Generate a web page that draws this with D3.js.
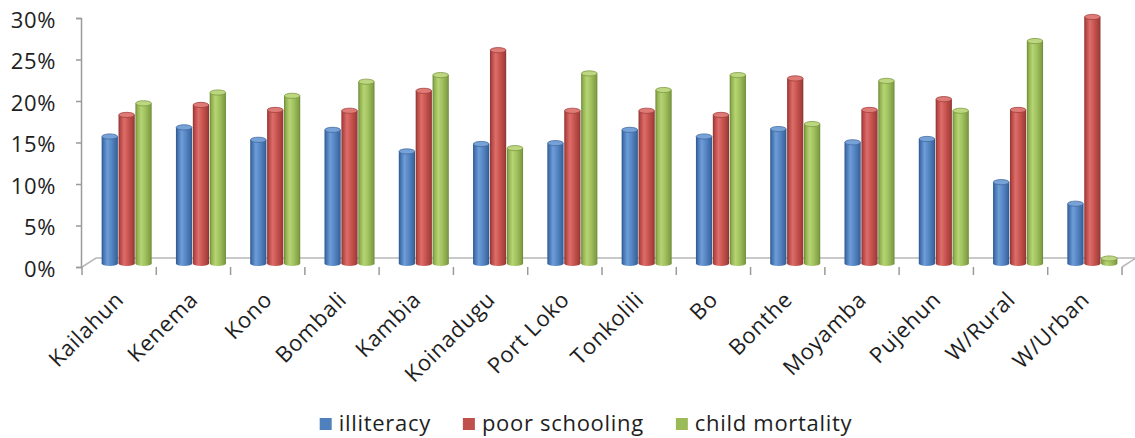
<!DOCTYPE html>
<html>
<head>
<meta charset="utf-8">
<script src="https://cdn.jsdelivr.net/npm/d3@7/dist/d3.min.js"></script>
<style>
  html, body { margin: 0; padding: 0; background: #fff; }
  svg { display: block; }
  text { font-family: "Open Sans", "Noto Sans", sans-serif; fill: #1e1e1e; }
</style>
</head>
<body>
<svg id="chart" width="1135" height="438"></svg>
<script>
// District categories along the x axis
const categories = ["Kailahun", "Kenema", "Kono", "Bombali", "Kambia", "Koinadugu",
  "Port Loko", "Tonkolili", "Bo", "Bonthe", "Moyamba", "Pujehun", "W/Rural", "W/Urban"];

// Series values, in percent
const illiteracy     = [15.3, 16.4, 14.9, 16.1, 13.5, 14.4, 14.5, 16.1, 15.3, 16.2, 14.6, 15.0, 9.8, 7.2];
const poorSchooling  = [17.9, 19.1, 18.5, 18.4, 20.8, 25.7, 18.4, 18.4, 17.9, 22.3, 18.5, 19.8, 18.5, 29.7];
const childMortality = [19.3, 20.6, 20.2, 21.9, 22.7, 13.9, 22.9, 20.9, 22.7, 16.8, 22.0, 18.4, 26.8, 0.6];

const seriesNames = ["illiteracy", "poor schooling", "child mortality"];
const yTicks = [0, 5, 10, 15, 20, 25, 30];

const series = [
  { name: seriesNames[0], values: illiteracy,
    stops: ["#2c568a", "#4474b2", "#6e9dd7", "#5787c5", "#3d69a3", "#2c568a"],
    cap: "#77a2d8", capEdge: "#41699f", swatch: "#4f81bd" },
  { name: seriesNames[1], values: poorSchooling,
    stops: ["#8a3331", "#b94946", "#dd6e6b", "#c9554f", "#a53f3c", "#8a3331"],
    cap: "#de7b77", capEdge: "#a4403d", swatch: "#c0504d" },
  { name: seriesNames[2], values: childMortality,
    stops: ["#6a8636", "#92b251", "#b6d474", "#a1c25f", "#83a145", "#6a8636"],
    cap: "#bcd77f", capEdge: "#7f9a43", swatch: "#9bbb59" }
];

(function drawChart() {
  const svg = d3.select("#chart");
  const defs = svg.append("defs");

  // Horizontal shading that gives each column a cylindrical look
  const stopOffsets = [0, 0.12, 0.35, 0.6, 0.9, 1];
  series.forEach((s, i) => {
    const g = defs.append("linearGradient")
      .attr("id", "cyl" + i)
      .attr("x1", 0).attr("x2", 1).attr("y1", 0).attr("y2", 0);
    s.stops.forEach((c, k) => g.append("stop").attr("offset", stopOffsets[k]).attr("stop-color", c));
  });

  // Layout
  const plotLeft = 82, plotRight = 1122, plotTop = 18, floorY = 267;
  const depthX = 14, depthY = 9;              // receding floor depth
  const midX = depthX / 2, midY = 3.5;        // columns stand near mid-depth

  const x = d3.scaleBand().domain(categories).range([plotLeft, plotRight]).paddingInner(0).paddingOuter(0);
  const xInner = d3.scaleBand().domain(seriesNames).range([-25, 25]).paddingInner(0.04);
  const y = d3.scaleLinear().domain([0, 30]).range([floorY, plotTop]);

  const axisColor = "#9a9a9a";

  // Floor of the plot
  svg.append("path")
    .attr("d", d3.line()([
      [plotLeft, floorY], [plotLeft + depthX, floorY - depthY],
      [plotRight + depthX, floorY - depthY], [plotRight, floorY]
    ]))
    .attr("fill", "none")
    .attr("stroke", "#b8b8b8")
    .attr("stroke-width", 1.5);

  // Value axis
  const yAxis = d3.axisLeft(y)
    .tickValues(yTicks)
    .tickSize(5)
    .tickPadding(20)
    .tickFormat(d => d + "%");
  const yg = svg.append("g").attr("transform", `translate(${plotLeft - 1},0)`).call(yAxis);
  yg.select(".domain").attr("stroke", axisColor).attr("stroke-width", 1.5);
  yg.selectAll(".tick line").attr("stroke", axisColor).attr("stroke-width", 1.5);
  yg.selectAll(".tick text")
    .attr("font-size", 22)
    .attr("dy", "0.42em")
    .attr("letter-spacing", 0.6)
    .style("font-family", '"Open Sans", sans-serif')
    .attr("fill", "#1e1e1e");

  // Category axis ticks at band boundaries
  const xg = svg.append("g").attr("transform", `translate(0,${floorY})`);
  const boundaries = categories.map(c => x(c)).concat([plotRight]);
  xg.selectAll("line.bound")
    .data(boundaries)
    .join("line")
    .attr("class", "bound")
    .attr("x1", d => d).attr("x2", d => d)
    .attr("y1", 0).attr("y2", 8)
    .attr("stroke", axisColor)
    .attr("stroke-width", 1.5);

  // Rotated category labels
  xg.selectAll("text.cat")
    .data(categories)
    .join("text")
    .attr("class", "cat")
    .attr("text-anchor", "end")
    .attr("font-size", 22)
    .attr("letter-spacing", 0.7)
    .attr("transform", d => `translate(${x(d) + x.bandwidth() / 2 + 6},34) rotate(-45)`)
    .text(d => d);

  // Cylindrical columns
  const baseY = y(0) - midY;
  const capRy = 2.6;
  const cols = svg.append("g");
  categories.forEach((cat, ci) => {
    const cx = x(cat) + x.bandwidth() / 2 + midX + 0.5;
    series.forEach((s, si) => {
      const v = s.values[ci];
      const x0 = cx + xInner(s.name);
      const w = xInner.bandwidth();
      const yt = y(v) - midY;
      const g = cols.append("g");
      g.append("ellipse")
        .attr("cx", x0 + w / 2).attr("cy", baseY)
        .attr("rx", w / 2).attr("ry", capRy)
        .attr("fill", `url(#cyl${si})`);
      g.append("rect")
        .attr("x", x0).attr("y", yt)
        .attr("width", w).attr("height", Math.max(0, baseY - yt))
        .attr("fill", `url(#cyl${si})`);
      g.append("ellipse")
        .attr("cx", x0 + w / 2).attr("cy", yt)
        .attr("rx", w / 2 - 0.3).attr("ry", capRy)
        .attr("fill", s.cap)
        .attr("stroke", s.capEdge)
        .attr("stroke-width", 0.8);
    });
  });

  // Legend
  const legend = svg.append("g");
  const items = legend.selectAll("g.item")
    .data(series)
    .join("g")
    .attr("class", "item");
  items.append("rect")
    .attr("width", 12).attr("height", 12)
    .attr("y", 418)
    .attr("fill", d => d.swatch);
  items.append("text")
    .attr("x", 19)
    .attr("y", 431)
    .attr("font-size", 22)
    .attr("letter-spacing", 0.7)
    .text(d => d.name);
  const gap = 32;
  let cursor = 0;
  const offsets = [];
  items.each(function () {
    offsets.push(cursor);
    const w = 19 + d3.select(this).select("text").node().getComputedTextLength();
    cursor += w + gap;
  });
  const total = cursor - gap;
  const startX = 586 - total / 2;
  items.attr("transform", (d, i) => `translate(${startX + offsets[i]},0)`);
})();
</script>
</body>
</html>
